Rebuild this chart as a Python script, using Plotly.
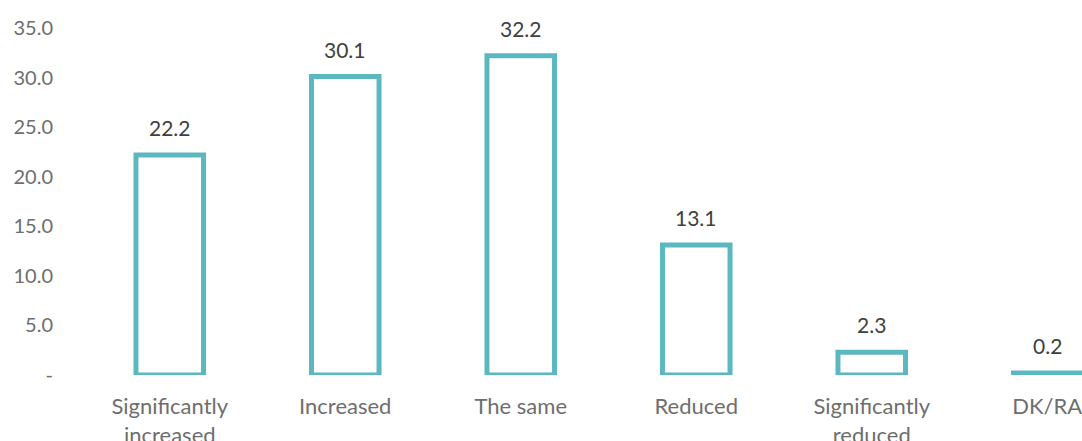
import plotly.graph_objects as go

categories = ["Significantly<br>increased", "Increased", "The same", "Reduced", "Significantly<br>reduced", "DK/RA"]
values = [22.2, 30.1, 32.2, 13.1, 2.3, 0.2]
y_tickvals = [0, 5, 10, 15, 20, 25, 30, 35]
y_ticktext = ["-", "5.0", "10.0", "15.0", "20.0", "25.0", "30.0", "35.0"]

teal = "#5BB8C0"
axis_grey = "#6E6E6E"
label_grey = "#404040"
font_family = "Lato"

fig = go.Figure()
fig.add_trace(go.Bar(
    x=list(range(len(categories))),
    y=values,
    width=0.385,
    marker=dict(color="white", line=dict(color=teal, width=5)),
    hoverinfo="skip",
))

annotations = []
for i, v in enumerate(values):
    annotations.append(dict(
        x=i, y=v, text=f"{v:.1f}", showarrow=False,
        yanchor="bottom", yshift=13,
        font=dict(family=font_family, size=21, color=label_grey),
    ))

fig.update_layout(
    width=1082, height=441,
    margin=dict(l=82, r=0, t=28, b=66, autoexpand=False),
    paper_bgcolor="white", plot_bgcolor="white",
    showlegend=False,
    annotations=annotations,
    xaxis=dict(
        tickmode="array", tickvals=list(range(len(categories))), ticktext=categories,
        range=[-0.5, 5.198], showgrid=False, zeroline=False, showline=False,
        tickfont=dict(family=font_family, size=22, color=axis_grey),
        ticks="", ticklabelstandoff=16, automargin=False, ticklabeloverflow="allow",
    ),
    yaxis=dict(
        tickmode="array", tickvals=y_tickvals, ticktext=y_ticktext,
        range=[0, 35], showgrid=False, zeroline=False, showline=False,
        tickfont=dict(family=font_family, size=20, color=axis_grey),
        ticks="", ticklabelstandoff=28, automargin=False,
    ),
)

fig.write_html("out.html")
